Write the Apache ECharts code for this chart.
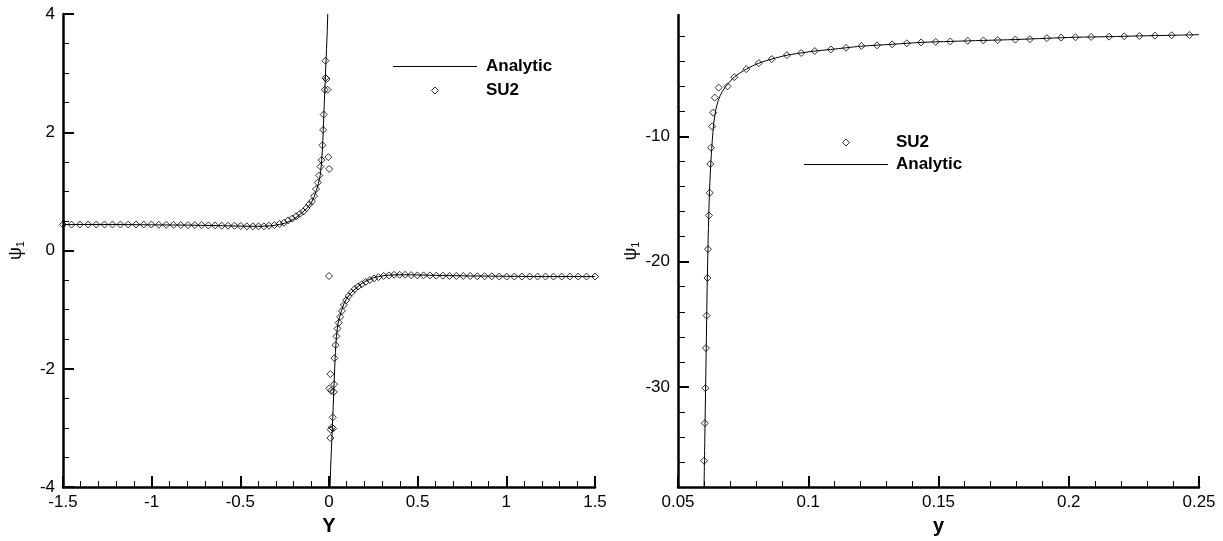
<!DOCTYPE html>
<html><head><meta charset="utf-8">
<script src="https://cdn.jsdelivr.net/npm/echarts@6/dist/echarts.min.js"></script>
<style>html,body{margin:0;padding:0;background:#fff}#c{width:1223px;height:541px}</style>
</head><body><div id="c"></div>
<script>
// ---------- Left panel (Y vs psi_1) ----------
const leftLineUpperX = [-1.5, -1.2, -1.0, -0.8, -0.6, -0.45, -0.38, -0.32, -0.28, -0.25, -0.22, -0.2, -0.18, -0.16, -0.14, -0.12, -0.1, -0.085, -0.07, -0.06, -0.05, -0.043, -0.037, -0.033, -0.029, -0.024, -0.019, -0.014, -0.01, -0.007];
const leftLineUpperY = [0.44, 0.44, 0.435, 0.43, 0.42, 0.41, 0.41, 0.42, 0.44, 0.46, 0.5, 0.53, 0.57, 0.62, 0.67, 0.73, 0.81, 0.9, 1.03, 1.13, 1.27, 1.45, 1.72, 2.0, 2.3, 2.68, 3.05, 3.4, 3.7, 4.0];
const leftLineLowerX = [0.006, 0.009, 0.013, 0.018, 0.023, 0.028, 0.032, 0.036, 0.042, 0.049, 0.059, 0.069, 0.084, 0.1, 0.12, 0.14, 0.16, 0.18, 0.2, 0.22, 0.25, 0.28, 0.32, 0.38, 0.45, 0.6, 0.8, 1.0, 1.2, 1.5];
const leftLineLowerY = [-4.0, -3.7, -3.4, -3.05, -2.68, -2.3, -2.0, -1.72, -1.45, -1.27, -1.13, -1.03, -0.9, -0.81, -0.73, -0.67, -0.62, -0.57, -0.53, -0.5, -0.46, -0.44, -0.42, -0.41, -0.41, -0.42, -0.43, -0.435, -0.44, -0.44];

const leftSu2X = [-1.500, -1.452, -1.405, -1.358, -1.312, -1.266, -1.221, -1.176, -1.132, -1.088, -1.045, -1.002, -0.960, -0.918, -0.877, -0.836, -0.796, -0.757, -0.718, -0.680, -0.642, -0.605, -0.569, -0.533, -0.498, -0.463, -0.429, -0.398, -0.367, -0.338, -0.308, -0.279, -0.254, -0.230, -0.207, -0.185, -0.164, -0.145, -0.127, -0.111, -0.097, -0.084, -0.073, -0.063, -0.055, -0.048, -0.042, -0.037, -0.033, -0.030, -0.024, -0.020, -0.014, -0.020, -0.008, -0.004, 0.001,
  0.000, 0.008, 0.002, 0.029, 0.012, 0.027, 0.021, 0.016, 0.023, 0.010, 0.008, 0.031, 0.037, 0.042, 0.048, 0.055, 0.063, 0.073, 0.084, 0.097, 0.111, 0.127, 0.145, 0.164, 0.185, 0.207, 0.230, 0.254, 0.279, 0.308, 0.338, 0.367, 0.398, 0.429, 0.463, 0.498, 0.533, 0.569, 0.605, 0.642, 0.680, 0.718, 0.757, 0.796, 0.836, 0.877, 0.918, 0.960, 1.002, 1.045, 1.088, 1.132, 1.176, 1.221, 1.266, 1.312, 1.358, 1.405, 1.452, 1.500];
const leftSu2Y = [0.44, 0.44, 0.44, 0.44, 0.44, 0.44, 0.44, 0.44, 0.44, 0.44, 0.44, 0.44, 0.435, 0.435, 0.435, 0.43, 0.43, 0.43, 0.43, 0.425, 0.425, 0.42, 0.42, 0.42, 0.415, 0.41, 0.41, 0.41, 0.41, 0.42, 0.43, 0.45, 0.47, 0.51, 0.54, 0.58, 0.62, 0.66, 0.72, 0.78, 0.83, 0.92, 1.04, 1.15, 1.27, 1.42, 1.53, 1.78, 2.04, 2.30, 2.72, 2.92, 2.90, 3.21, 2.72, 1.58, 1.38,
  -0.43, -2.09, -2.33, -2.26, -2.37, -2.39, -2.82, -2.99, -3.01, -3.03, -3.17, -1.82, -1.60, -1.45, -1.32, -1.22, -1.12, -1.02, -0.92, -0.84, -0.77, -0.71, -0.65, -0.61, -0.57, -0.53, -0.50, -0.47, -0.45, -0.43, -0.42, -0.41, -0.41, -0.41, -0.415, -0.42, -0.42, -0.42, -0.425, -0.425, -0.43, -0.43, -0.43, -0.43, -0.435, -0.435, -0.435, -0.44, -0.44, -0.44, -0.44, -0.44, -0.44, -0.44, -0.44, -0.44, -0.44, -0.44, -0.44, -0.44];

// ---------- Right panel (y vs psi_1) ----------
const rightLineX = [0.0600, 0.0603, 0.0606, 0.0609, 0.0612, 0.0616, 0.0620, 0.0625, 0.0631, 0.0637, 0.0645, 0.0655, 0.0670, 0.0690, 0.0716, 0.0762, 0.0810, 0.0860, 0.0918, 0.0973, 0.1025, 0.1087, 0.1145, 0.1204, 0.1322, 0.1433, 0.1545, 0.1672, 0.1795, 0.1916, 0.2026, 0.2155, 0.2271, 0.2395, 0.2500];
const rightLineY = [-38, -34, -30, -26, -22, -18, -15, -12.5, -10.5, -9.0, -7.9, -7.1, -6.4, -5.85, -5.26, -4.62, -4.15, -3.82, -3.51, -3.33, -3.18, -3.05, -2.92, -2.79, -2.64, -2.49, -2.41, -2.33, -2.26, -2.16, -2.08, -2.03, -1.97, -1.92, -1.87];
const rightSu2X = [0.0600, 0.0603, 0.0605, 0.0607, 0.0610, 0.0613, 0.0615, 0.0619, 0.0622, 0.0624, 0.0627, 0.0631, 0.0635, 0.0641, 0.0656, 0.0690, 0.0716, 0.0762, 0.0810, 0.0860, 0.0918, 0.0973, 0.1025, 0.1087, 0.1145, 0.1204, 0.1264, 0.1322, 0.1378, 0.1433, 0.1489, 0.1545, 0.1612, 0.1672, 0.1727, 0.1795, 0.1851, 0.1916, 0.1971, 0.2026, 0.2086, 0.2155, 0.2213, 0.2271, 0.2331, 0.2395, 0.2463];
const rightSu2Y = [-35.9, -32.9, -30.1, -26.9, -24.3, -21.3, -19.0, -16.3, -14.5, -12.2, -10.9, -9.2, -8.1, -6.9, -6.1, -6.0, -5.26, -4.62, -4.15, -3.82, -3.51, -3.33, -3.18, -3.05, -2.92, -2.77, -2.72, -2.64, -2.56, -2.49, -2.44, -2.41, -2.36, -2.33, -2.31, -2.26, -2.23, -2.15, -2.10, -2.08, -2.05, -2.03, -2.0, -1.97, -1.95, -1.92, -1.90];
const rightYMajorTicks = [-30, -20, -10];
const rightYMinorTicks = [-36, -34, -32, -28, -26, -24, -22, -18, -16, -14, -12, -8, -6, -4, -2];

const zip = (xs, ys) => xs.map((x, i) => [x, ys[i]]);
const FONT = '"Liberation Sans", Arial, sans-serif';
const AXW = 2.5;
const lbl = {color: '#000', fontSize: 17, fontFamily: FONT};
const psiName = '{p|ψ}{s|1}';
const psiStyle = {color: '#000', fontFamily: FONT, rich: {p: {fontSize: 18, fontFamily: FONT, color: '#000'}, s: {fontSize: 11, fontFamily: FONT, color: '#000', padding: [9, 0, 0, 0]}}};
const xNameStyle = {color: '#000', fontSize: 20, fontWeight: 'bold', fontFamily: FONT};
const axLine = {show: true, onZero: false, lineStyle: {color: '#000', width: AXW}};
const majTick = len => ({show: true, inside: true, length: len, lineStyle: {color: '#000', width: 2}});
const minTick = (n, len) => ({show: true, splitNumber: n, length: len, lineStyle: {color: '#000', width: 1}});
const lineIcon = 'path://M0,0L84,0L84,1L0,1Z';
const diamondIcon = 'path://M5,0L10,5L5,10L0,5Z';
const diamondLegendStyle = {color: 'rgba(255,255,255,0)', borderColor: '#000', borderWidth: 1};
const legendText = pad => ({fontSize: 17, fontWeight: 'bold', fontFamily: FONT, color: '#000', padding: [0, 0, 0, pad]});

const chart = echarts.init(document.getElementById('c'), null, {renderer: 'canvas'});
chart.setOption({
  animation: false,
  backgroundColor: '#fff',
  grid: [
    {left: 63, top: 14, width: 532, height: 482, containLabel: false},
    {left: 678, top: 15, width: 521, height: 473, containLabel: false}
  ],
  legend: [
    {data: [{name: 'Analytic', icon: lineIcon}, {name: 'SU2', icon: diamondIcon, itemStyle: diamondLegendStyle}], orient: 'vertical', left: 388, top: 53,
     itemWidth: 84, itemHeight: 7, itemGap: 7, textStyle: legendText(4), selectedMode: false},
    {data: [{name: 'SU2 ', icon: diamondIcon, itemStyle: diamondLegendStyle}, {name: 'Analytic ', icon: lineIcon}], orient: 'vertical', left: 799, top: 129,
     itemWidth: 84, itemHeight: 7, itemGap: 5, textStyle: legendText(3), selectedMode: false}
  ],
  xAxis: [
    {gridIndex: 0, type: 'value', min: -1.5, max: 1.5, interval: 0.5, name: 'Y', nameLocation: 'middle', nameGap: 24, nameTextStyle: xNameStyle,
     axisLine: axLine, axisTick: majTick(11), minorTick: minTick(5, 6), axisLabel: Object.assign({margin: 7}, lbl), splitLine: {show: false}},
    {gridIndex: 1, type: 'value', min: 0.05, max: 0.25, interval: 0.05, name: 'y', nameLocation: 'middle', nameGap: 26, nameTextStyle: xNameStyle,
     axisLine: axLine, axisTick: majTick(11), minorTick: minTick(5, 6), axisLabel: Object.assign({margin: 7}, lbl), splitLine: {show: false}}
  ],
  yAxis: [
    {gridIndex: 0, type: 'value', min: -4, max: 4, interval: 2, name: psiName, nameLocation: 'middle', nameGap: 37, nameRotate: 90, nameTextStyle: psiStyle,
     axisLine: axLine, axisTick: majTick(11), minorTick: minTick(4, 6), axisLabel: Object.assign({margin: 8}, lbl), splitLine: {show: false}},
    {gridIndex: 1, type: 'value', min: -38, max: -0.3, name: psiName, nameLocation: 'middle', nameGap: 35, nameRotate: 90, nameTextStyle: psiStyle,
     axisLine: axLine, axisTick: Object.assign(majTick(11), {customValues: rightYMajorTicks}),
     axisLabel: Object.assign({margin: 8, customValues: rightYMajorTicks}, lbl), splitLine: {show: false}},
    {gridIndex: 1, type: 'value', min: -38, max: -0.3, position: 'left',
     axisLine: {show: false}, axisTick: {show: true, inside: true, length: 7, customValues: rightYMinorTicks, lineStyle: {color: '#000', width: 1}},
     axisLabel: {show: false}, splitLine: {show: false}}
  ],
  series: [
    {name: 'Analytic', type: 'line', xAxisIndex: 0, yAxisIndex: 0, data: zip(leftLineUpperX, leftLineUpperY), showSymbol: false, symbol: 'none', lineStyle: {color: '#000', width: 1}, itemStyle: {color: '#000'}},
    {name: 'Analytic', type: 'line', xAxisIndex: 0, yAxisIndex: 0, data: zip(leftLineLowerX, leftLineLowerY), showSymbol: false, symbol: 'none', lineStyle: {color: '#000', width: 1}, itemStyle: {color: '#000'}},
    {name: 'SU2', type: 'scatter', xAxisIndex: 0, yAxisIndex: 0, data: zip(leftSu2X, leftSu2Y), symbol: 'diamond', symbolSize: 7,
     itemStyle: {color: 'rgba(255,255,255,0)', borderColor: '#000', borderWidth: 1}},
    {name: 'Analytic ', type: 'line', xAxisIndex: 1, yAxisIndex: 1, data: zip(rightLineX, rightLineY), showSymbol: false, symbol: 'none', smooth: 0.3, lineStyle: {color: '#000', width: 1}, itemStyle: {color: '#000'}},
    {name: 'SU2 ', type: 'scatter', xAxisIndex: 1, yAxisIndex: 1, data: zip(rightSu2X, rightSu2Y), symbol: 'diamond', symbolSize: 7,
     itemStyle: {color: 'rgba(255,255,255,0)', borderColor: '#000', borderWidth: 1}}
  ]
});
</script></body></html>
